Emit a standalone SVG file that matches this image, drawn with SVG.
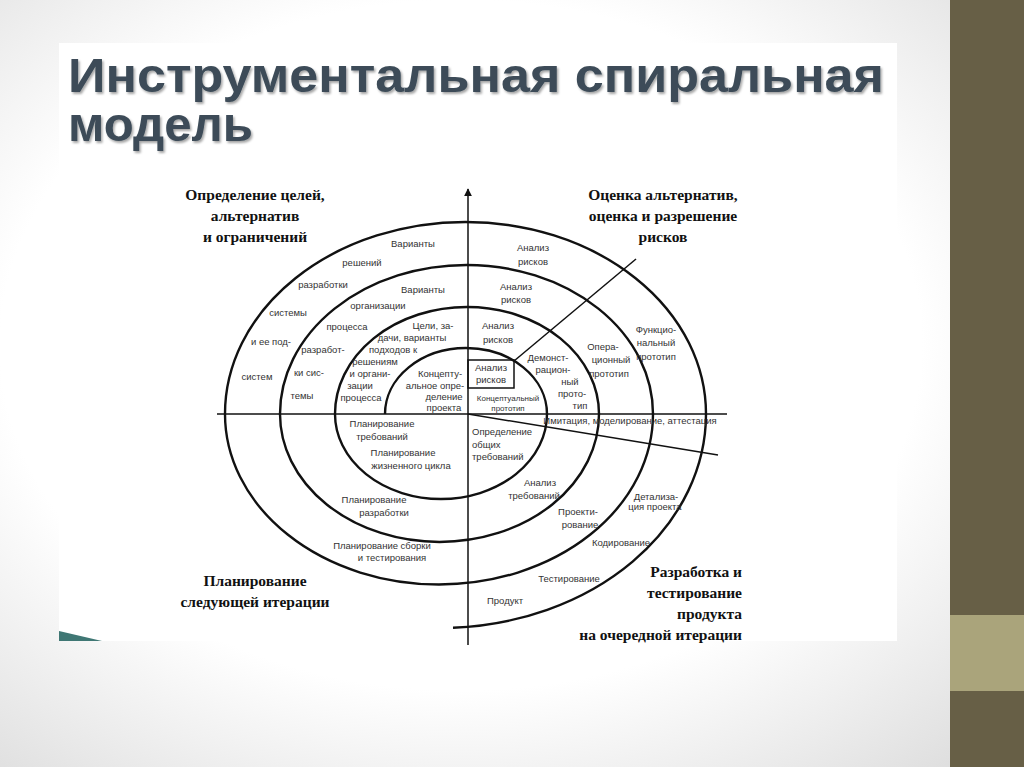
<svg xmlns="http://www.w3.org/2000/svg" width="1024" height="767" viewBox="0 0 1024 767">
<defs>
<radialGradient id="bg" cx="0.45" cy="0.45" r="0.75">
<stop offset="0.6" stop-color="#ffffff"/>
<stop offset="1" stop-color="#dcdcdc"/>
</radialGradient>
<filter id="sh" x="-5%" y="-20%" width="110%" height="150%">
<feDropShadow dx="1.5" dy="2" stdDeviation="1.2" flood-color="#000" flood-opacity="0.35"/>
</filter>
<marker id="arr" viewBox="0 0 10 10" refX="9" refY="5" markerWidth="8" markerHeight="15" markerUnits="userSpaceOnUse" orient="auto">
<path d="M0,0 L10,5 L0,10 Z" fill="#111"/>
</marker>
<style>
.t{font-family:"Liberation Sans",Arial,sans-serif;font-size:9.5px;fill:#333;text-anchor:middle}
.ts{font-family:"Liberation Sans",Arial,sans-serif;font-size:8px;fill:#333;text-anchor:middle}
.tl{font-family:"Liberation Sans",Arial,sans-serif;font-size:9.5px;fill:#333;text-anchor:start}
.h{font-family:"Liberation Serif","Times New Roman",serif;font-size:15.5px;font-weight:bold;fill:#111;text-anchor:middle}
.hr{font-family:"Liberation Serif","Times New Roman",serif;font-size:15.5px;font-weight:bold;fill:#111;text-anchor:end}
.arc{fill:none;stroke:#111;stroke-width:2.4}
.ax{fill:none;stroke:#111;stroke-width:1.5}
.ttl{font-family:"Liberation Sans",Arial,sans-serif;font-size:49px;font-weight:bold;fill:#3d4c58}
</style>
</defs>
<rect x="0" y="0" width="1024" height="767" fill="url(#bg)"/>
<rect x="59" y="43" width="838" height="598" fill="#ffffff"/>
<rect x="950" y="0" width="74" height="767" fill="#675f46"/>
<rect x="950" y="615" width="74" height="76" fill="#aaa47b"/>
<polygon points="59,631 102,641 59,641" fill="#3f7774"/>

<g id="title" filter="url(#sh)">
<text class="ttl" x="68" y="92" textLength="816" lengthAdjust="spacingAndGlyphs">Инструментальная спиральная</text>
<text class="ttl" x="68" y="141" textLength="185" lengthAdjust="spacingAndGlyphs">модель</text>
</g>

<g id="connectors">
<line class="ax" x1="217" y1="414" x2="727" y2="414"/>
<line class="ax" x1="468" y1="645" x2="468" y2="189" marker-end="url(#arr)"/>
<line class="ax" x1="514" y1="361" x2="636" y2="259"/>
<line class="ax" x1="468" y1="414" x2="718" y2="455"/>
</g>

<g id="spiral">
<path class="arc" d="M385,414 A81,66 0 0 1 547,414 A106,85 0 0 1 335,414 A132,107 0 0 1 599,414 A159.5,128 0 0 1 280,414 A186.5,149 0 0 1 653,414 A214,170.5 0 0 1 225,414 A240.5,192 0 0 1 706,414 A266,214 0 0 1 453,627.7"/>
</g>

<g id="risk-box">
<rect x="468" y="360" width="46" height="28" fill="none" stroke="#111" stroke-width="1.5"/>
<text class="t" x="491" y="371">Анализ</text>
<text class="t" x="491" y="383">рисков</text>
</g>

<g id="quadrant-labels">
<text class="h" x="255" y="200">Определение целей,</text>
<text class="h" x="255" y="221">альтернатив</text>
<text class="h" x="255" y="242">и ограничений</text>
<text class="h" x="663" y="200">Оценка альтернатив,</text>
<text class="h" x="663" y="221">оценка и разрешение</text>
<text class="h" x="663" y="242">рисков</text>
<text class="h" x="255" y="586">Планирование</text>
<text class="h" x="255" y="607">следующей итерации</text>
<text class="hr" x="742" y="577">Разработка и</text>
<text class="hr" x="742" y="598">тестирование</text>
<text class="hr" x="742" y="619">продукта</text>
<text class="hr" x="742" y="640">на очередной итерации</text>
</g>

<g id="upper-left">
<text class="t" x="413" y="247">Варианты</text>
<text class="t" x="362" y="266">решений</text>
<text class="t" x="323" y="288">разработки</text>
<text class="t" x="423" y="293">Варианты</text>
<text class="t" x="378" y="309">организации</text>
<text class="t" x="288" y="316">системы</text>
<text class="t" x="347" y="330">процесса</text>
<text class="t" x="433" y="329">Цели, за-</text>
<text class="t" x="271" y="345">и ее под-</text>
<text class="t" x="412" y="341">дачи, варианты</text>
<text class="t" x="323" y="353">разработ-</text>
<text class="t" x="393" y="353">подходов к</text>
<text class="t" x="375" y="365">решениям</text>
<text class="t" x="257" y="380">систем</text>
<text class="t" x="309" y="376">ки сис-</text>
<text class="t" x="370" y="377">и органи-</text>
<text class="t" x="440" y="377">Концепту-</text>
<text class="t" x="360" y="389">зации</text>
<text class="t" x="435" y="389">альное опре-</text>
<text class="t" x="302" y="399">темы</text>
<text class="t" x="361" y="401">процесса</text>
<text class="t" x="444" y="400">деление</text>
<text class="t" x="444" y="411">проекта</text>
</g>

<g id="upper-right">
<text class="t" x="533" y="251">Анализ</text>
<text class="t" x="533" y="265">рисков</text>
<text class="t" x="516" y="290">Анализ</text>
<text class="t" x="516" y="303">рисков</text>
<text class="t" x="498" y="329">Анализ</text>
<text class="t" x="498" y="343">рисков</text>
<text class="ts" x="508" y="401">Концептуальный</text>
<text class="ts" x="508" y="411">прототип</text>
<text class="t" x="548" y="361">Демонст-</text>
<text class="t" x="553" y="373">рацион-</text>
<text class="t" x="570" y="385">ный</text>
<text class="t" x="572" y="397">прото-</text>
<text class="t" x="580" y="409">тип</text>
<text class="t" x="603" y="350">Опера-</text>
<text class="t" x="611" y="363">ционный</text>
<text class="t" x="609" y="377">прототип</text>
<text class="t" x="656" y="333">Функцио-</text>
<text class="t" x="656" y="346">нальный</text>
<text class="t" x="656" y="360">прототип</text>
<text class="t" x="630" y="424">Имитация, моделирование, аттестация</text>
</g>

<g id="lower-left">
<text class="t" x="382" y="427">Планирование</text>
<text class="t" x="382" y="440">требований</text>
<text class="t" x="403" y="456">Планирование</text>
<text class="t" x="411" y="469">жизненного цикла</text>
<text class="t" x="374" y="503">Планирование</text>
<text class="t" x="384" y="516">разработки</text>
<text class="t" x="382" y="549">Планирование сборки</text>
<text class="t" x="392" y="561">и тестирования</text>
</g>

<g id="lower-right">
<text class="tl" x="472" y="435">Определение</text>
<text class="tl" x="472" y="448">общих</text>
<text class="tl" x="472" y="460">требований</text>
<text class="t" x="540" y="486">Анализ</text>
<text class="t" x="534" y="499">требований</text>
<text class="t" x="578" y="515">Проекти-</text>
<text class="t" x="580" y="528">рование</text>
<text class="t" x="656" y="500">Детализа-</text>
<text class="t" x="655" y="510">ция проекта</text>
<text class="t" x="621" y="546">Кодирование</text>
<text class="t" x="569" y="582">Тестирование</text>
<text class="t" x="505" y="604">Продукт</text>
</g>
</svg>
